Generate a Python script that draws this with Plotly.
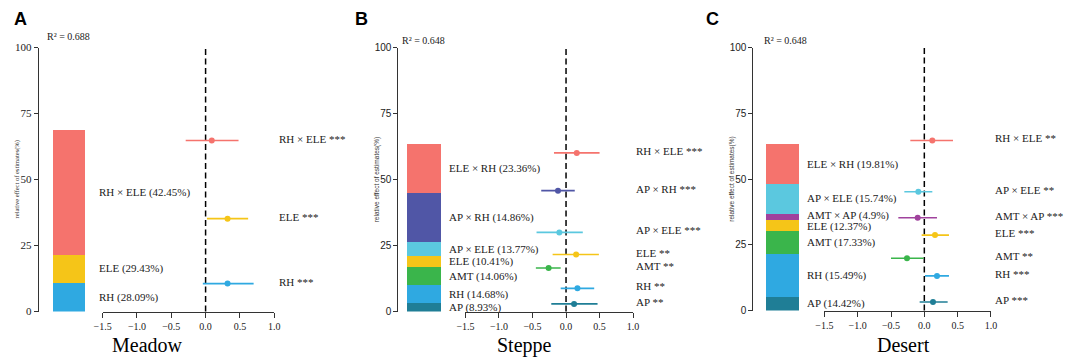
import plotly.graph_objects as go

# ---------------- DATA ----------------
# Meadow (panel A)
meadow_r2 = 0.688
meadow_bar_factors = ["RH", "ELE", "RH × ELE"]
meadow_bar_pct = [28.09, 29.43, 42.45]
meadow_bar_height = [11.0, 10.6, 47.2]
meadow_forest_factors = ["RH × ELE", "ELE", "RH"]
meadow_forest_sig = ["***", "***", "***"]
meadow_forest_y = [64.8, 35.2, 10.6]
meadow_est = [0.09, 0.32, 0.32]
meadow_lo = [-0.29, 0.02, -0.04]
meadow_hi = [0.48, 0.62, 0.70]

# Steppe (panel B)
steppe_r2 = 0.648
steppe_bar_factors = ["AP", "RH", "AMT", "ELE", "AP × ELE", "AP × RH", "ELE × RH"]
steppe_bar_pct = [8.93, 14.68, 14.06, 10.41, 13.77, 14.86, 23.36]
steppe_bar_height = [3.3, 6.6, 6.9, 4.1, 5.5, 18.6, 18.4]
steppe_forest_factors = ["RH × ELE", "AP × RH", "AP × ELE", "ELE", "AMT", "RH", "AP"]
steppe_forest_sig = ["***", "***", "***", "**", "**", "**", "**"]
steppe_forest_y = [60.1, 45.8, 30.0, 21.6, 16.5, 8.8, 2.9]
steppe_est = [0.16, -0.12, -0.10, 0.15, -0.26, 0.17, 0.12]
steppe_lo = [-0.18, -0.37, -0.44, -0.20, -0.45, -0.08, -0.22]
steppe_hi = [0.50, 0.13, 0.25, 0.49, -0.08, 0.42, 0.47]

# Desert (panel C)
desert_r2 = 0.648
desert_bar_factors = ["AP", "RH", "AMT", "ELE", "AMT × AP", "AP × ELE", "ELE × RH"]
desert_bar_pct = [14.42, 15.49, 17.33, 12.37, 4.9, 15.74, 19.81]
desert_bar_height = [5.1, 16.6, 8.4, 4.5, 2.2, 11.4, 15.0]
desert_forest_factors = ["RH × ELE", "AP × ELE", "AMT × AP", "ELE", "AMT", "RH", "AP"]
desert_forest_sig = ["**", "**", "***", "***", "**", "***", "***"]
desert_forest_y = [64.7, 45.2, 35.3, 28.7, 19.9, 13.2, 3.3]
desert_est = [0.12, -0.09, -0.10, 0.16, -0.26, 0.19, 0.13]
desert_lo = [-0.21, -0.30, -0.39, -0.04, -0.50, 0.01, -0.07]
desert_hi = [0.43, 0.12, 0.19, 0.37, -0.01, 0.37, 0.35]

y_ticks = [0, 25, 50, 75, 100]
x_ticks = [-1.5, -1.0, -0.5, 0.0, 0.5, 1.0]

# ---------------- STYLE ----------------
COLORS = {
    "RH × ELE": "#F5736D", "ELE × RH": "#F5736D",
    "ELE": "#F5C518", "RH": "#2FA9E1", "AP": "#1F7E96",
    "AMT": "#3AB54B", "AP × RH": "#5056A6", "AP × ELE": "#5BC8DF",
    "AMT × AP": "#A0429D",
}
SERIF = "Liberation Serif, Times New Roman, serif"
SANS = "Liberation Sans, Arial, sans-serif"
W, H = 1065, 364
LABEL_SIZE = 11
LABEL_GAP_PX = 11.5


def px(x):
    return x / W


def py(y):
    return 1 - y / H


def spread(vals, gap, lo=0.0):
    """Push label centres apart so they don't overlap (simple repel)."""
    v = list(vals)
    for _ in range(50):
        moved = False
        for k in range(1, len(v)):
            d = v[k] - v[k - 1]
            if d < gap - 1e-6:
                shift = (gap - d) / 2
                v[k] += shift
                v[k - 1] -= shift
                moved = True
        if v[0] < lo:
            off = lo - v[0]
            v = [x + off for x in v]
        if not moved:
            break
    return v


panels = [
    dict(letter="A", title="Meadow", r2=meadow_r2,
         bf=meadow_bar_factors, bp=meadow_bar_pct, bh=meadow_bar_height,
         ff=meadow_forest_factors, fs=meadow_forest_sig, fy=meadow_forest_y,
         est=meadow_est, lo=meadow_lo, hi=meadow_hi,
         yaxis_x=30, bar_dom=(30, 92), bar_w=0.516, lab_x=0.95,
         fdom=(95, 269), ytop=43, ybot=316, tickfont=dict(family=SERIF, size=11),
         titlefont=SERIF, letter_x=3, r2_x=37, r2_y=32, title_x=140, rlab_x=272),
    dict(letter="B", title="Steppe", r2=steppe_r2,
         bf=steppe_bar_factors, bp=steppe_bar_pct, bh=steppe_bar_height,
         ff=steppe_forest_factors, fs=steppe_forest_sig, fy=steppe_forest_y,
         est=steppe_est, lo=steppe_lo, hi=steppe_hi,
         yaxis_x=395, bar_dom=(395, 447), bar_w=0.654, lab_x=0.942,
         fdom=(463, 633), ytop=43, ybot=316, tickfont=dict(family=SANS, size=10),
         titlefont=SANS, letter_x=349, r2_x=397, r2_y=36, title_x=523, rlab_x=634),
    dict(letter="C", title="Desert", r2=desert_r2,
         bf=desert_bar_factors, bp=desert_bar_pct, bh=desert_bar_height,
         ff=desert_forest_factors, fs=desert_forest_sig, fy=desert_forest_y,
         est=desert_est, lo=desert_lo, hi=desert_hi,
         yaxis_x=755, bar_dom=(755, 814), bar_w=0.559, lab_x=0.881,
         fdom=(827, 996), ytop=43, ybot=315, tickfont=dict(family=SANS, size=10),
         titlefont=SANS, letter_x=705, r2_x=764, r2_y=36, title_x=907, rlab_x=998),
]

fig = go.Figure()
annotations = []
shapes = []
layout_axes = {}

for i, p in enumerate(panels):
    bx = 2 * i + 1
    fx = 2 * i + 2
    bxn, byn = f"x{bx}", f"y{bx}"
    fxn, fyn = f"x{fx}", f"y{fx}"
    ydom = [py(p["ybot"]), py(p["ytop"])]
    unit_px = (p["ybot"] - p["ytop"]) / 100.0

    # stacked bar
    for fac, h in zip(p["bf"], p["bh"]):
        fig.add_trace(go.Bar(x=[0.5], y=[h], width=p["bar_w"], marker=dict(color=COLORS[fac], line=dict(width=0)),
                             xaxis=bxn, yaxis=byn, showlegend=False, hoverinfo="skip"))
    # bar labels at segment midpoints (repelled)
    mids = []
    base = 0
    for h in p["bh"]:
        mids.append(base + h / 2)
        base += h
    mids = spread(mids, LABEL_GAP_PX / unit_px, lo=0.0)
    for fac, pct, m in zip(p["bf"], p["bp"], mids):
        annotations.append(dict(x=p["lab_x"], y=m, xref=bxn, yref=byn, text=f"{fac} ({pct:g}%)",
                                showarrow=False, xanchor="left", yanchor="middle",
                                font=dict(family=SERIF, size=LABEL_SIZE, color="#222")))

    # forest points
    for fac, sig, yy, e, lo, hi in zip(p["ff"], p["fs"], p["fy"], p["est"], p["lo"], p["hi"]):
        c = COLORS[fac]
        fig.add_trace(go.Scatter(x=[e], y=[yy], mode="markers", marker=dict(color=c, size=6),
                                 error_x=dict(type="data", symmetric=False, array=[hi - e], arrayminus=[e - lo],
                                              color=c, thickness=1.6, width=0),
                                 xaxis=fxn, yaxis=fyn, showlegend=False, cliponaxis=False))
        annotations.append(dict(x=px(p["rlab_x"]), y=yy, xref="paper", yref=fyn, text=f"{fac} {sig}",
                                showarrow=False, xanchor="left", yanchor="middle", yshift=2,
                                font=dict(family=SERIF, size=LABEL_SIZE, color="#222")))

    # zero dashed line
    shapes.append(dict(type="line", xref=fxn, yref=f"{fyn} domain", x0=0, x1=0, y0=0, y1=1,
                       line=dict(color="black", width=1.5, dash="6px,3.5px"), layer="below"))

    layout_axes[f"xaxis{bx}"] = dict(domain=[px(p["bar_dom"][0]), px(p["bar_dom"][1])], range=[0, 1],
                                     visible=False, anchor=byn)
    layout_axes[f"yaxis{bx}"] = dict(domain=ydom, range=[0, 100], anchor=bxn, tickvals=y_ticks,
                                     showline=True, linecolor="#333", linewidth=1, ticks="outside",
                                     ticklen=4, tickcolor="#333", showgrid=False, zeroline=False,
                                     tickfont=dict(p["tickfont"], color="#222"))
    layout_axes[f"xaxis{fx}"] = dict(domain=[px(p["fdom"][0]), px(p["fdom"][1])], range=[-1.5, 1.0],
                                     anchor=fyn, tickvals=x_ticks, tickformat=".1f", showline=True,
                                     linecolor="#333", linewidth=1, ticks="outside", ticklen=5,
                                     tickcolor="#333", showgrid=False, zeroline=False,
                                     tickfont=dict(family=SERIF, size=10, color="#222"))
    layout_axes[f"yaxis{fx}"] = dict(domain=ydom, range=[0, 100], anchor=fxn, visible=False)

    # texts
    annotations.append(dict(x=px(p["letter_x"]), y=py(13), xref="paper", yref="paper", text=f"<b>{p['letter']}</b>",
                            showarrow=False, xanchor="left", yanchor="middle",
                            font=dict(family=SANS, size=18, color="black")))
    annotations.append(dict(x=px(p["r2_x"]), y=py(p["r2_y"]), xref="paper", yref="paper",
                            text=f"R² = {p['r2']:.3f}", showarrow=False, xanchor="left", yanchor="middle",
                            font=dict(family=SERIF, size=10, color="#222")))
    annotations.append(dict(x=px(p["title_x"]), y=py(351), xref="paper", yref="paper", text=p["title"],
                            showarrow=False, xanchor="center", yanchor="middle",
                            font=dict(family=SERIF, size=20, color="black")))
    annotations.append(dict(x=px(p["yaxis_x"] - 22), y=(ydom[0] + ydom[1]) / 2, xref="paper", yref="paper",
                            text="relative effect of estimates(%)", textangle=-90, showarrow=False,
                            xanchor="center", yanchor="middle",
                            font=dict(family=p["titlefont"], size=6.5, color="#333")))

fig.update_layout(
    width=W, height=H, margin=dict(l=0, r=0, t=0, b=0),
    paper_bgcolor="white", plot_bgcolor="white", barmode="stack",
    annotations=annotations, shapes=shapes, showlegend=False, **layout_axes,
)

fig.write_html("out.html", config={"displayModeBar": False},
               post_script="document.body.style.margin='0';document.body.style.overflow='hidden';")
